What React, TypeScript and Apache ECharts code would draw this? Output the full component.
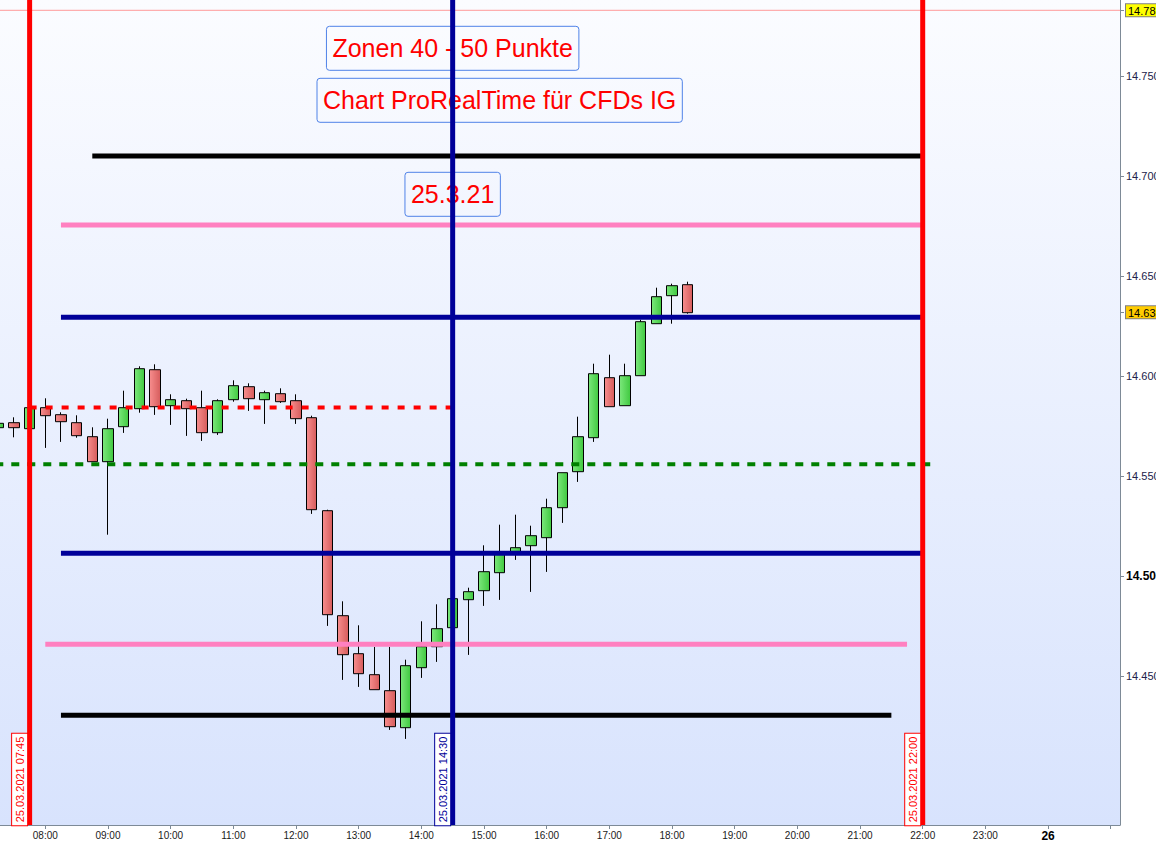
import React, { useEffect, useRef } from "react";
import * as echarts from "echarts";

// ---- candles (15 min, time in decimal hours on 25.03.2021) ----
const candleTimes = [
  7.25, 7.5, 7.75, 8, 8.25, 8.5, 8.75, 9, 9.25, 9.5, 9.75, 10, 10.25, 10.5, 10.75,
  11, 11.25, 11.5, 11.75, 12, 12.25, 12.5, 12.75, 13, 13.25, 13.5, 13.75, 14, 14.25,
  14.5, 14.75, 15, 15.25, 15.5, 15.75, 16, 16.25, 16.5, 16.75, 17, 17.25, 17.5, 17.75,
  18, 18.25,
];
const opens = [
  14.5743, 14.5768, 14.5738, 14.5843, 14.5808, 14.5768, 14.5698, 14.5573, 14.5748, 14.5838,
  14.6033, 14.5853, 14.5878, 14.5843, 14.5718, 14.5883, 14.5948, 14.5883, 14.5913, 14.5878,
  14.5793, 14.5328, 14.4803, 14.4613, 14.4508, 14.4428, 14.4243, 14.4543, 14.4648, 14.4743,
  14.4883, 14.4928, 14.5018, 14.5118, 14.5153, 14.5193, 14.5343, 14.5523, 14.5693, 14.5993,
  14.5853, 14.6003, 14.6263, 14.6403, 14.6458,
];
const closes = [
  14.5765, 14.5743, 14.5843, 14.5803, 14.5773, 14.5703, 14.5573, 14.5738, 14.5843, 14.6038,
  14.5848, 14.5883, 14.5838, 14.5718, 14.5878, 14.5953, 14.5888, 14.5918, 14.5873, 14.5788,
  14.5333, 14.4808, 14.4608, 14.4513, 14.4433, 14.4248, 14.4553, 14.4648, 14.4738, 14.4888,
  14.4923, 14.5023, 14.5113, 14.5143, 14.5203, 14.5343, 14.5518, 14.5698, 14.6013, 14.5848,
  14.6003, 14.6273, 14.6398, 14.6453, 14.6318,
];
const lows = [
  14.574, 14.5695, 14.5668, 14.5642, 14.5672, 14.5693, 14.5573, 14.5208, 14.5717, 14.5818,
  14.5807, 14.5757, 14.5702, 14.5677, 14.5707, 14.5873, 14.5827, 14.5762, 14.5867, 14.5762,
  14.5312, 14.4752, 14.4482, 14.4447, 14.4433, 14.4232, 14.4187, 14.4492, 14.4572, 14.4715,
  14.4607, 14.4852, 14.4882, 14.5082, 14.4922, 14.5022, 14.5267, 14.5472, 14.5672, 14.5848,
  14.5853, 14.6003, 14.6263, 14.6263, 14.6313,
];
const highs = [
  14.5768, 14.5795, 14.587, 14.589, 14.582, 14.5805, 14.5745, 14.5788, 14.5928, 14.605,
  14.606, 14.591, 14.5888, 14.5928, 14.5885, 14.598, 14.5965, 14.5928, 14.594, 14.591,
  14.5803, 14.5333, 14.4875, 14.4755, 14.4647, 14.4647, 14.4583, 14.4775, 14.486, 14.4905,
  14.4943, 14.5155, 14.5258, 14.5308, 14.5253, 14.5388, 14.5518, 14.5798, 14.6063, 14.6108,
  14.6063, 14.6283, 14.6443, 14.6463, 14.6473,
];

// ---- horizontal zone lines ----
const levelPrices = [14.7102, 14.6757, 14.6295, 14.5844, 14.556, 14.5115, 14.466, 14.4305];
const levelStarts = [8.75, 8.25, 8.25, 7.75, 7.25, 8.25, 8.0, 8.25];
const levelEnds = [22, 22, 22, 14.5, 22.12, 22, 21.75, 21.5];

// ---- vertical time markers ----
const markerTimes = [7.75, 14.5, 22];
const markerLabels = ["25.03.2021 07:45", "25.03.2021 14:30", "25.03.2021 22:00"];

// ---- text notes ----
const noteTexts = ["Zonen 40 - 50 Punkte", "Chart ProRealTime für CFDs IG", "25.3.21"];
const noteTimes = [14.5, 15.25, 14.5];
const notePrices = [14.764, 14.738, 14.691];

// ---- axes ----
const xTickHours = [8, 9, 10, 11, 12, 13, 14, 15, 16, 17, 18, 19, 20, 21, 22, 23, 24];
const xTickLabels = [
  "08:00", "09:00", "10:00", "11:00", "12:00", "13:00", "14:00", "15:00", "16:00",
  "17:00", "18:00", "19:00", "20:00", "21:00", "22:00", "23:00", "26",
];
const xMinorTicks = [25];
const yTickValues = [14.45, 14.5, 14.55, 14.6, 14.65, 14.7, 14.75];
const currentPrice = 14.632;
const sessionHigh = 14.783;

const X_MIN = 7.2774;
const X_MAX = 25.148;
const Y_MIN = 14.37565;
const Y_MAX = 14.78815;

const FONT = '"Liberation Sans", Arial, sans-serif';

const levelStyles = [
  { color: "#000000", width: 5, type: "solid" as any },
  { color: "#ff80c0", width: 5, type: "solid" as any },
  { color: "#000099", width: 5, type: "solid" as any },
  { color: "#ff0000", width: 4, type: [7, 9] as any, dashOffset: 0 },
  { color: "#008000", width: 4, type: [8, 8] as any, dashOffset: 3.3 },
  { color: "#000099", width: 5, type: "solid" as any },
  { color: "#ff80c0", width: 5, type: "solid" as any },
  { color: "#000000", width: 5, type: "solid" as any },
];
const markerColors = ["#ff0000", "#000099", "#ff0000"];

export default function App() {
  const ref = useRef<HTMLDivElement>(null);

  useEffect(() => {
    if (!ref.current) return;
    const chart = echarts.init(ref.current, null, { renderer: "svg" });

    const green = new echarts.graphic.LinearGradient(0, 0, 1, 0, [
      { offset: 0, color: "#7ce87c" },
      { offset: 1, color: "#40c940" },
    ]);
    const red = new echarts.graphic.LinearGradient(0, 0, 1, 0, [
      { offset: 0, color: "#f78e8e" },
      { offset: 1, color: "#d65c5c" },
    ]);

    const series: any[] = [];
    series.push({
      type: "candlestick",
      data: candleTimes.map((t, i) => [t, opens[i], closes[i], lows[i], highs[i]]),
      barWidth: 11,
      silent: true,
      z: 2,
      itemStyle: {
        color: green,
        color0: red,
        borderColor: "#000000",
        borderColor0: "#000000",
        borderWidth: 1,
      },
    });
    series.push({
      type: "line",
      data: [
        [X_MIN, sessionHigh],
        [X_MAX, sessionHigh],
      ],
      symbol: "none",
      silent: true,
      z: 3,
      lineStyle: { color: "#ff9a9a", width: 1 },
    });
    levelPrices.forEach((p, i) => {
      const s = levelStyles[i];
      series.push({
        type: "line",
        data: [
          [levelStarts[i], p],
          [levelEnds[i], p],
        ],
        symbol: "none",
        silent: true,
        z: 4,
        lineStyle: {
          color: s.color,
          width: s.width,
          type: s.type,
          dashOffset: (s as any).dashOffset || 0,
          cap: "butt",
        },
      });
    });
    markerTimes.forEach((t, i) => {
      series.push({
        type: "line",
        data: [
          [t, Y_MIN],
          [t, Y_MAX],
        ],
        symbol: "none",
        silent: true,
        z: 5,
        lineStyle: { color: markerColors[i], width: 5, cap: "butt" },
      });
    });

    const axisGray = "#7d8a97";

    const option: any = {
      animation: false,
      backgroundColor: "#ffffff",
      grid: {
        left: 0,
        right: 36,
        top: 0,
        bottom: 16,
        show: true,
        borderWidth: 0,
        containLabel: false,
        outerBoundsMode: "none",
        backgroundColor: new echarts.graphic.LinearGradient(0, 0, 0, 1, [
          { offset: 0, color: "#fbfcff" },
          { offset: 1, color: "#d8e3fd" },
        ]),
      },
      xAxis: {
        type: "value",
        min: X_MIN,
        max: X_MAX,
        splitLine: { show: false },
        axisLine: { show: true, lineStyle: { color: axisGray, width: 1 } },
        axisTick: {
          show: true,
          length: 4,
          lineStyle: { color: axisGray },
          customValues: xTickHours.concat(xMinorTicks),
        },
        axisLabel: {
          customValues: xTickHours,
          margin: 5,
          fontSize: 10,
          fontFamily: FONT,
          color: "#1a1a1a",
          formatter: (v: number) => {
            const idx = xTickHours.indexOf(Math.round(v));
            const s = idx >= 0 ? xTickLabels[idx] : "";
            return Math.round(v) === 24 ? "{d|" + s + "}" : s;
          },
          rich: {
            d: { fontWeight: "bold", fontSize: 12, color: "#000000", fontFamily: FONT },
          },
        },
      },
      yAxis: {
        type: "value",
        position: "right",
        min: Y_MIN,
        max: Y_MAX,
        splitLine: { show: false },
        axisLine: { show: true, lineStyle: { color: axisGray, width: 1 } },
        axisTick: {
          show: true,
          length: 4,
          lineStyle: { color: axisGray },
          customValues: yTickValues.concat([currentPrice, sessionHigh]),
        },
        axisLabel: {
          customValues: yTickValues.concat([currentPrice, sessionHigh]),
          margin: 6,
          fontSize: 11,
          fontFamily: FONT,
          color: "#22224a",
          formatter: (v: number) => {
            const s = v.toFixed(3);
            if (s === currentPrice.toFixed(3)) return "{cur|" + s + "}";
            if (s === sessionHigh.toFixed(3)) return "{hi|" + s + "}";
            if (s === "14.500") return "{b|" + s + "}";
            return s;
          },
          rich: {
            b: { fontWeight: "bold", fontSize: 12, color: "#000000", fontFamily: FONT },
            cur: {
              backgroundColor: "#ffcc00",
              borderColor: "#7f7f7f",
              borderWidth: 1,
              padding: [1, 2, 0, 2],
              color: "#000000",
              fontSize: 11,
              fontFamily: FONT,
            },
            hi: {
              backgroundColor: "#ffff00",
              borderColor: "#7f7f7f",
              borderWidth: 1,
              padding: [1, 2, 0, 2],
              color: "#000000",
              fontSize: 11,
              fontFamily: FONT,
            },
          },
        },
      },
      series,
    };

    chart.setOption(option);

    const px = (t: number, p: number) =>
      chart.convertToPixel({ gridIndex: 0 } as any, [t, p]) as number[];
    const bottomY = px(X_MIN, Y_MIN)[1];

    const graphic: any[] = [];
    noteTexts.forEach((txt, i) => {
      const [x, y] = px(noteTimes[i], notePrices[i]);
      graphic.push({
        type: "text",
        x,
        y,
        z: 1,
        silent: true,
        style: {
          text: txt,
          font: "25px " + FONT,
          fill: "#ff0000",
          align: "center",
          verticalAlign: "middle",
          lineHeight: 30,
          borderColor: "#4f82e8",
          borderWidth: 1,
          borderRadius: 3,
          padding: [7, 6, 7, 6],
        },
      });
    });
    markerTimes.forEach((t, i) => {
      const [x] = px(t, Y_MIN);
      graphic.push({
        type: "text",
        x: x - 10,
        y: bottomY - 45.5,
        rotation: Math.PI / 2,
        z: 10,
        silent: true,
        style: {
          text: markerLabels[i],
          font: "11px " + FONT,
          fill: markerColors[i],
          align: "center",
          verticalAlign: "middle",
          lineHeight: 11,
          backgroundColor: "#ffffff",
          borderColor: markerColors[i],
          borderWidth: 1,
          padding: [2, 3, 2, 3],
        },
      });
    });
    chart.setOption({ graphic });

    return () => chart.dispose();
  }, []);

  return (
    <div
      ref={ref}
      style={{ position: "absolute", left: 0, top: 0, width: 1156, height: 841 }}
    />
  );
}
